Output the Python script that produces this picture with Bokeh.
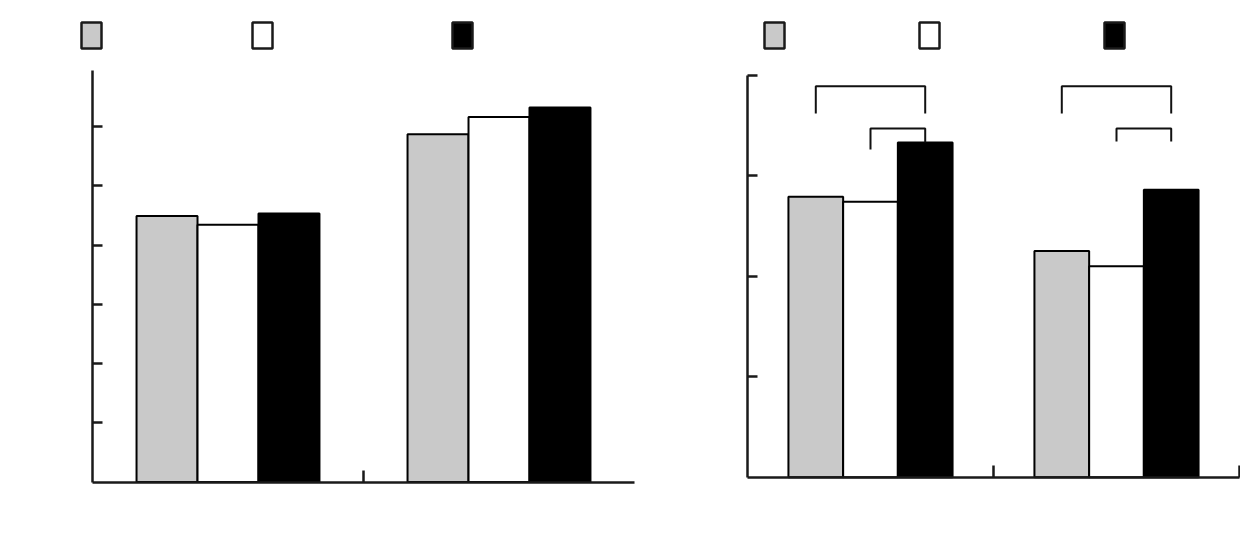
from bokeh.plotting import figure
from bokeh.models import LinearAxis, FixedTicker, Range1d
from bokeh.layouts import row
from bokeh.embed import file_html
from bokeh.resources import INLINE

# ---- data ----
groups = ["Group 1", "Group 2"]
series_colors = ["#c9c9c9", "#ffffff", "#000000"]

left_gray = [4.49, 5.87]
left_white = [4.34, 6.16]
left_black = [4.53, 6.32]

right_gray = [2.79, 2.25]
right_white = [2.74, 2.10]
right_black = [3.33, 2.86]

left_y_ticks = [1, 2, 3, 4, 5, 6]
left_y_top = 6.945
right_y_ticks = [1, 2, 3, 4]
right_y_top = 4.0

# significance brackets on the right panel: (from series, to series, top, left leg end, right leg end) per group
bracket_big = [(0, 2, 3.89, 3.62, 3.62), (0, 2, 3.89, 3.62, 3.62)]
bracket_small = [(1, 2, 3.47, 3.26, 3.33), (1, 2, 3.47, 3.34, 3.34)]

H = 536


def build_panel(values, width, axis_sx, zero_sy, pxu, pyu, bar_w, y_ticks, y_top,
                x_ticks, legend_sx, legend_sy, brackets=None):
    x_range = Range1d(-axis_sx / pxu, (width - axis_sx) / pxu)
    y_range = Range1d(-(H - zero_sy) / pyu, zero_sy / pyu)
    p = figure(width=width, height=H, x_range=x_range, y_range=y_range,
               output_backend="svg", toolbar_location=None,
               x_axis_location=None, y_axis_location=None,
               min_border=0, outline_line_color=None)
    p.grid.visible = False
    n = len(groups)
    offsets = [-bar_w, 0.0, bar_w]
    for s, vals in enumerate(values):
        xs = [i + 0.5 + offsets[s] for i in range(n)]
        p.vbar(x=xs, top=vals, bottom=0, width=bar_w,
               fill_color=series_colors[s], line_color="#000000", line_width=2)

    # legend swatches
    for s in range(3):
        lx = (legend_sx[s] - axis_sx) / pxu
        ly = (zero_sy - legend_sy) / pyu
        p.rect(x=[lx], y=[ly], width=20, height=26, width_units="screen",
               height_units="screen", fill_color=series_colors[s],
               line_color="#1a1a1a", line_width=2.5)

    if brackets:
        xs_all, ys_all = [], []
        for br_set in brackets:
            for g, (a, b, top, la, lb) in enumerate(br_set):
                xa = g + 0.5 + offsets[a]
                xb = g + 0.5 + offsets[b]
                xs_all.append([xa, xa, xb, xb])
                ys_all.append([la, top, top, lb])
        p.multi_line(xs=xs_all, ys=ys_all, line_color="#111111", line_width=2)

    yax = LinearAxis(fixed_location=0, bounds=(0, y_top),
                     ticker=FixedTicker(ticks=y_ticks))
    xax = LinearAxis(fixed_location=0, bounds=(0, n),
                     ticker=FixedTicker(ticks=x_ticks))
    for ax, tl in ((yax, 10), (xax, 12)):
        ax.axis_line_width = 2.5
        ax.axis_line_color = "#1a1a1a"
        ax.major_tick_line_width = 2.5
        ax.major_tick_line_color = "#1a1a1a"
        ax.major_tick_in = tl
        ax.major_tick_out = 0
        ax.minor_tick_line_color = None
        ax.major_label_text_font_size = "0px"
        ax.major_label_text_color = None
    p.add_layout(yax, "left")
    p.add_layout(xax, "below")
    return p


W1 = 690
W2 = 1240 - W1

p1 = build_panel([left_gray, left_white, left_black], W1,
                 axis_sx=92, zero_sy=481.5, pxu=271.0, pyu=59.25, bar_w=0.225,
                 y_ticks=left_y_ticks, y_top=left_y_top, x_ticks=[1],
                 legend_sx=[91, 262, 462], legend_sy=35)

p2 = build_panel([right_gray, right_white, right_black], W2,
                 axis_sx=747 - W1, zero_sy=476.7, pxu=246.0, pyu=100.5, bar_w=0.2224,
                 y_ticks=right_y_ticks, y_top=right_y_top, x_ticks=[1, 2],
                 legend_sx=[774 - W1, 929 - W1, 1114 - W1], legend_sy=35,
                 brackets=[bracket_big, bracket_small])

layout = row(p1, p2)
open("out.html", "w").write(file_html(layout, INLINE))
